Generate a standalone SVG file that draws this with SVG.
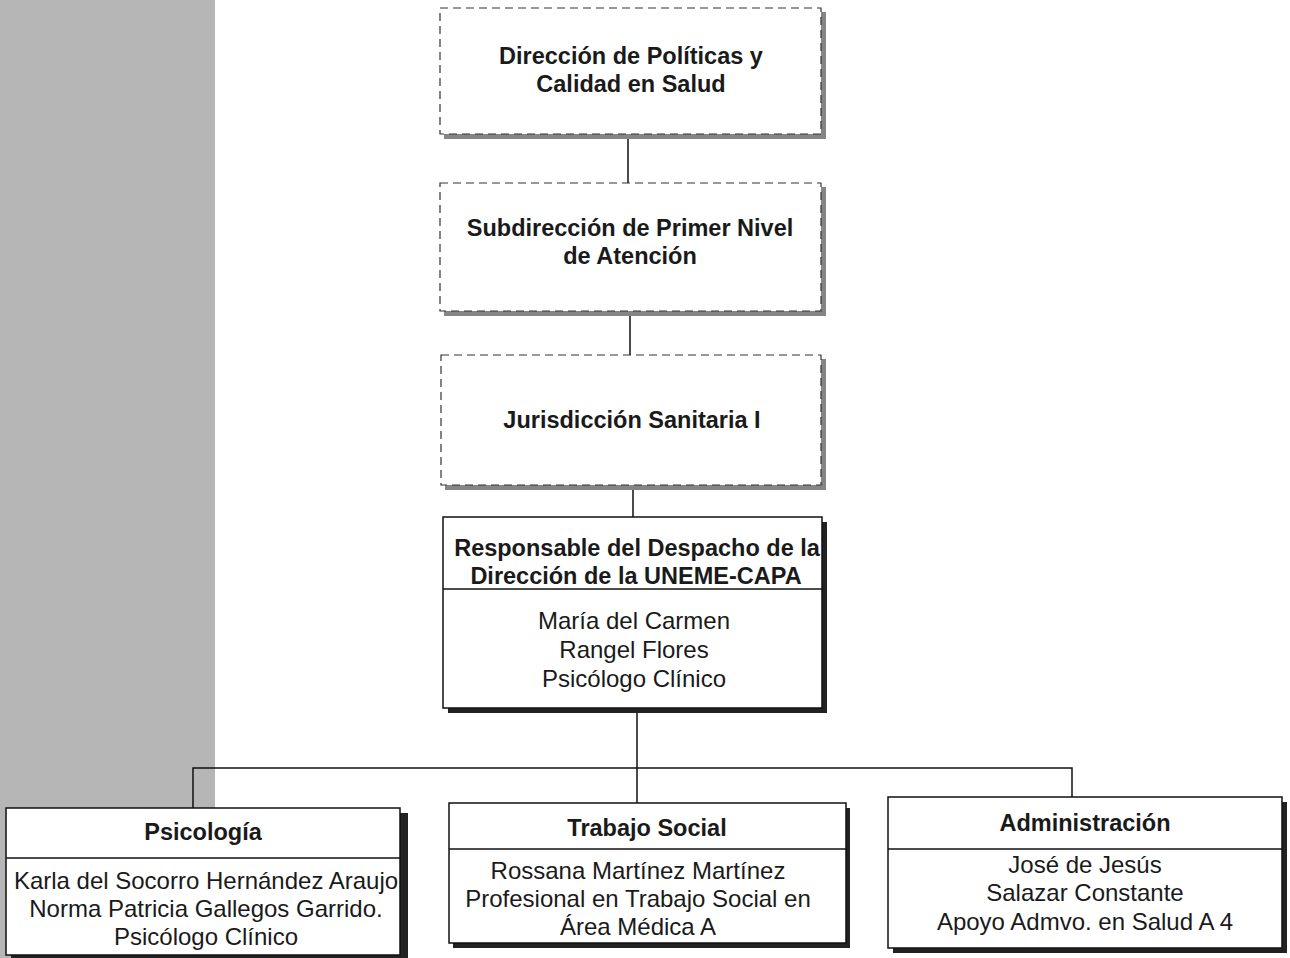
<svg xmlns="http://www.w3.org/2000/svg" width="1290" height="958" viewBox="0 0 1290 958">
<style>
.dash{fill:#fff;stroke:#333;stroke-width:1.2;stroke-dasharray:8 5}
.gsh{fill:#858585}
.bsh{fill:#222}
.box{fill:#fff;stroke:#111;stroke-width:1.5}
.ln{stroke:#111;stroke-width:1.5;fill:none}
.b{font-family:"Liberation Sans",Arial,sans-serif;font-weight:bold;font-size:23.5px;fill:#1a1a1a;text-anchor:middle}
.r{font-family:"Liberation Sans",Arial,sans-serif;font-size:24px;fill:#1a1a1a;text-anchor:middle}
</style>
<rect x="0" y="0" width="1290" height="958" fill="#fff"/>
<rect x="0" y="0" width="215" height="958" fill="#b6b6b6"/>
<g id="connectors">
<line class="ln" x1="628" y1="135" x2="628" y2="183"/>
<line class="ln" x1="630" y1="312" x2="630" y2="355"/>
<line class="ln" x1="633" y1="487" x2="633" y2="517"/>
<line class="ln" x1="637" y1="708" x2="637" y2="803"/>
<polyline class="ln" points="193,808 193,768 1072,768 1072,797"/>
</g>
<g id="n1">
<rect class="gsh" x="444" y="12" width="382" height="127"/>
<rect class="dash" x="440" y="8" width="381" height="126"/>
<text class="b" x="631" y="64">Dirección de Políticas y</text>
<text class="b" x="631" y="92">Calidad en Salud</text>
</g>
<g id="n2">
<rect class="gsh" x="444" y="187" width="382" height="129"/>
<rect class="dash" x="440" y="183" width="381" height="128"/>
<text class="b" x="630" y="236">Subdirección de Primer Nivel</text>
<text class="b" x="630" y="264">de Atención</text>
</g>
<g id="n3">
<rect class="gsh" x="445" y="359" width="381" height="131"/>
<rect class="dash" x="441" y="355" width="380" height="130"/>
<text class="b" x="632" y="428">Jurisdicción Sanitaria I</text>
</g>
<g id="n4">
<rect class="bsh" x="448" y="522" width="379" height="191"/>
<rect class="box" x="443" y="517" width="379" height="191"/>
<line class="ln" x1="443" y1="589" x2="822" y2="589"/>
<text class="b" x="637" y="556">Responsable del Despacho de la</text>
<text class="b" x="636" y="584">Dirección de la UNEME-CAPA</text>
<text class="r" x="634" y="629">María del Carmen</text>
<text class="r" x="634" y="658">Rangel Flores</text>
<text class="r" x="634" y="687">Psicólogo Clínico</text>
</g>
<g id="n5">
<rect class="bsh" x="11" y="813" width="397" height="150"/>
<rect class="box" x="6" y="808" width="394" height="147"/>
<line class="ln" x1="6" y1="858" x2="400" y2="858"/>
<text class="b" x="203" y="840">Psicología</text>
<text class="r" x="206" y="889">Karla del Socorro Hernández Araujo</text>
<text class="r" x="206" y="917">Norma Patricia Gallegos Garrido.</text>
<text class="r" x="206" y="945">Psicólogo Clínico</text>
</g>
<g id="n6">
<rect class="bsh" x="453" y="808" width="397" height="140"/>
<rect class="box" x="449" y="803" width="397" height="140"/>
<line class="ln" x1="449" y1="849" x2="846" y2="849"/>
<text class="b" x="647" y="836">Trabajo Social</text>
<text class="r" x="638" y="879">Rossana Martínez Martínez</text>
<text class="r" x="638" y="907">Profesional en Trabajo Social en</text>
<text class="r" x="638" y="935">Área Médica A</text>
</g>
<g id="n7">
<rect class="bsh" x="893" y="802" width="394" height="151"/>
<rect class="box" x="888" y="797" width="394" height="151"/>
<line class="ln" x1="888" y1="849" x2="1282" y2="849"/>
<text class="b" x="1085" y="831">Administración</text>
<text class="r" x="1085" y="873">José de Jesús</text>
<text class="r" x="1085" y="901">Salazar Constante</text>
<text class="r" x="1085" y="930">Apoyo Admvo. en Salud A 4</text>
</g>
</svg>
